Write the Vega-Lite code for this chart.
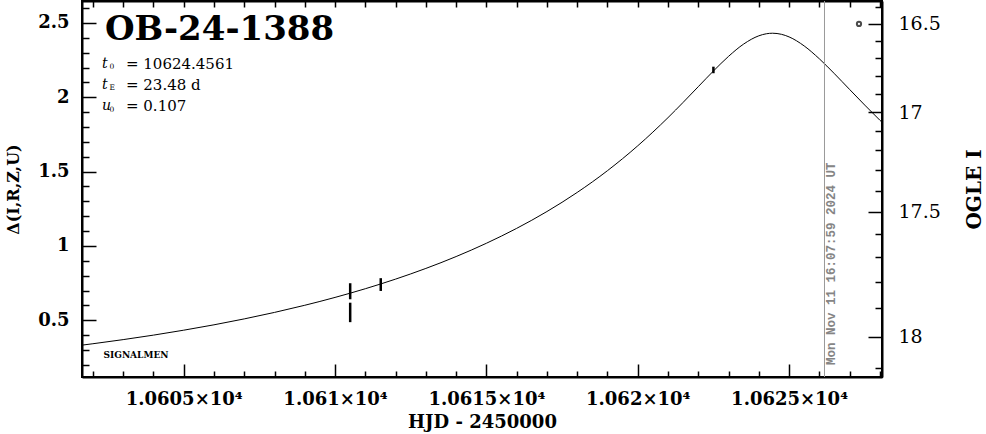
{
  "$schema": "https://vega.github.io/schema/vega-lite/v6.json",
  "width": 800,
  "height": 376,
  "autosize": {"type": "none"},
  "padding": {"left": 82, "top": 1, "right": 104, "bottom": 57},
  "background": "white",
  "config": {
    "view": {"stroke": "black", "strokeWidth": 2},
    "font": "DejaVu Serif",
    "axis": {
      "grid": false,
      "domainColor": "black",
      "domainWidth": 2,
      "tickColor": "black",
      "tickWidth": 1.5,
      "labelColor": "black",
      "titleColor": "black",
      "labelFont": "DejaVu Serif",
      "titleFont": "DejaVu Serif",
      "labelOverlap": false,
      "labelFlush": false
    }
  },
  "datasets": {
    "model": [
      {"t": 10601.64, "d": 0.3324}, {"t": 10602, "d": 0.3418}, {"t": 10603, "d": 0.3695},
      {"t": 10604, "d": 0.3997}, {"t": 10605, "d": 0.4329}, {"t": 10606, "d": 0.4691},
      {"t": 10607, "d": 0.5089}, {"t": 10608, "d": 0.5526}, {"t": 10609, "d": 0.6006},
      {"t": 10610, "d": 0.6535}, {"t": 10611, "d": 0.712}, {"t": 10612, "d": 0.7766},
      {"t": 10613, "d": 0.8485}, {"t": 10614, "d": 0.9284}, {"t": 10615, "d": 1.0178},
      {"t": 10616, "d": 1.1181}, {"t": 10617, "d": 1.2313}, {"t": 10618, "d": 1.3599},
      {"t": 10619, "d": 1.5063}, {"t": 10619.5, "d": 1.5872}, {"t": 10620, "d": 1.6735},
      {"t": 10620.5, "d": 1.7657}, {"t": 10621, "d": 1.8632}, {"t": 10621.5, "d": 1.9658},
      {"t": 10622, "d": 2.0715}, {"t": 10622.5, "d": 2.1767}, {"t": 10623, "d": 2.2755},
      {"t": 10623.5, "d": 2.3584}, {"t": 10624, "d": 2.4137}, {"t": 10624.25, "d": 2.4276},
      {"t": 10624.456, "d": 2.4312}, {"t": 10624.75, "d": 2.4238}, {"t": 10625, "d": 2.4065},
      {"t": 10625.5, "d": 2.3455}, {"t": 10626, "d": 2.259}, {"t": 10626.5, "d": 2.1585},
      {"t": 10627, "d": 2.0528}, {"t": 10627.5, "d": 1.9476}, {"t": 10628, "d": 1.8458},
      {"t": 10628.07, "d": 1.8319}
    ],
    "obs": [
      {"t": 10610.5, "lo": 0.641, "hi": 0.749},
      {"t": 10610.5, "lo": 0.487, "hi": 0.618},
      {"t": 10611.51, "lo": 0.697, "hi": 0.783},
      {"t": 10622.5, "lo": 2.162, "hi": 2.206}
    ],
    "ogle": [{"t": 10627.31, "d": 2.494}],
    "now": [{"t": 10626.17, "d": 0.199, "label": "Mon Nov 11 16:07:59 2024 UT"}],
    "title": [{"t": 10602.4, "d": 2.455, "label": "OB-24-1388"}],
    "signal": [{"t": 10602.35, "d": 0.2665, "label": "SIGNALMEN"}],
    "params": [
      {"t": 10602.3, "d": 2.225, "sym": "t", "sub": "0", "val": "= 10624.4561"},
      {"t": 10602.3, "d": 2.084, "sym": "t", "sub": "E", "val": "= 23.48 d"},
      {"t": 10602.3, "d": 1.94, "sym": "u", "sub": "0", "val": "= 0.107"}
    ]
  },
  "resolve": {"axis": {"x": "independent", "y": "independent"}},
  "layer": [
    {
      "data": {"name": "model"},
      "mark": {"type": "line", "color": "black", "strokeWidth": 1, "interpolate": "monotone", "clip": true},
      "encoding": {
        "x": {
          "field": "t", "type": "quantitative",
          "scale": {"domain": [10601.64, 10628.07], "nice": false, "zero": false},
          "axis": {
            "orient": "bottom",
            "values": [10602, 10603, 10604, 10605, 10606, 10607, 10608, 10609, 10610, 10611, 10612, 10613, 10614, 10615, 10616, 10617, 10618, 10619, 10620, 10621, 10622, 10623, 10624, 10625, 10626, 10627, 10628],
            "tickSize": {"condition": {"test": "datum.value % 5 == 0", "value": -13}, "value": -6},
            "labelExpr": "datum.value % 5 == 0 ? format(datum.value / 10000, '.5~f') + '×10⁴' : ''",
            "labelFontWeight": "bold",
            "labelFontSize": 18,
            "labelPadding": 26,
            "title": "HJD - 2450000",
            "titleFontWeight": "bold",
            "titleFontSize": 18,
            "titlePadding": -2
          }
        },
        "y": {
          "field": "d", "type": "quantitative",
          "scale": {"domain": [0.118, 2.648], "nice": false, "zero": false},
          "axis": {
            "orient": "left",
            "values": [0.2, 0.3, 0.4, 0.5, 0.6, 0.7, 0.8, 0.9, 1, 1.1, 1.2, 1.3, 1.4, 1.5, 1.6, 1.7, 1.8, 1.9, 2, 2.1, 2.2, 2.3, 2.4, 2.5, 2.6],
            "tickSize": {"condition": {"test": "abs(datum.value * 2 - round(datum.value * 2)) < 0.01", "value": -14}, "value": -7},
            "labelExpr": "abs(datum.value * 2 - round(datum.value * 2)) < 0.01 ? format(datum.value, '~g') : ''",
            "labelFontWeight": "bold",
            "labelFontSize": 18,
            "labelPadding": 27,
            "title": "Δ(I,R,Z,U)",
            "titleFontWeight": "bold",
            "titleFontSize": 16,
            "titlePadding": 16
          }
        }
      }
    },
    {
      "data": {"name": "obs"},
      "mark": {"type": "rule", "color": "black", "strokeWidth": 2.5},
      "encoding": {
        "x": {
          "field": "t", "type": "quantitative",
          "scale": {"domain": [10601.64, 10628.07], "nice": false, "zero": false},
          "axis": {
            "orient": "top",
            "values": [10602, 10603, 10604, 10605, 10606, 10607, 10608, 10609, 10610, 10611, 10612, 10613, 10614, 10615, 10616, 10617, 10618, 10619, 10620, 10621, 10622, 10623, 10624, 10625, 10626, 10627, 10628],
            "tickSize": -6,
            "labels": false,
            "title": null
          }
        },
        "y": {
          "field": "lo", "type": "quantitative",
          "scale": {"domain": [0.118, 2.648], "nice": false, "zero": false},
          "axis": {
            "orient": "right",
            "values": [2.607, 2.494, 2.379, 2.262, 2.143, 2.022, 1.899, 1.773, 1.643, 1.51, 1.372, 1.229, 1.08, 0.923, 0.758, 0.581, 0.39, 0.18],
            "tickSize": {"condition": {"test": "indexof([2.494, 1.899, 1.229, 0.39], datum.value) >= 0", "value": -14}, "value": -7},
            "labelExpr": "datum.value == 2.494 ? '16.5' : datum.value == 1.899 ? '17' : datum.value == 1.229 ? '17.5' : datum.value == 0.39 ? '18' : ''",
            "labelFontSize": 19,
            "labelFontWeight": "normal",
            "labelPadding": 30,
            "title": "OGLE I",
            "titleAngle": 270,
            "titleFontWeight": "bold",
            "titleFontSize": 20,
            "titlePadding": 44
          }
        },
        "y2": {"field": "hi"}
      }
    },
    {
      "data": {"name": "ogle"},
      "mark": {"type": "point", "shape": "circle", "filled": false, "color": "black", "strokeWidth": 2, "size": 18},
      "encoding": {
        "x": {"field": "t", "type": "quantitative", "scale": {"domain": [10601.64, 10628.07], "nice": false, "zero": false}, "axis": null},
        "y": {"field": "d", "type": "quantitative", "scale": {"domain": [0.118, 2.648], "nice": false, "zero": false}, "axis": null}
      }
    },
    {
      "data": {"name": "now"},
      "mark": {"type": "rule", "color": "#999999", "strokeWidth": 1},
      "encoding": {
        "x": {"field": "t", "type": "quantitative", "scale": {"domain": [10601.64, 10628.07], "nice": false, "zero": false}, "axis": null}
      }
    },
    {
      "data": {"name": "now"},
      "mark": {"type": "text", "color": "#858585", "font": "Liberation Mono", "fontWeight": "bold", "fontSize": 12.5, "angle": 270, "align": "left", "baseline": "middle", "dy": 7},
      "encoding": {
        "x": {"field": "t", "type": "quantitative", "scale": {"domain": [10601.64, 10628.07], "nice": false, "zero": false}, "axis": null},
        "y": {"field": "d", "type": "quantitative", "scale": {"domain": [0.118, 2.648], "nice": false, "zero": false}, "axis": null},
        "text": {"field": "label"}
      }
    },
    {
      "data": {"name": "title"},
      "mark": {"type": "text", "color": "black", "font": "DejaVu Serif", "fontWeight": "bold", "fontSize": 34, "align": "left", "baseline": "middle"},
      "encoding": {
        "x": {"field": "t", "type": "quantitative", "scale": {"domain": [10601.64, 10628.07], "nice": false, "zero": false}, "axis": null},
        "y": {"field": "d", "type": "quantitative", "scale": {"domain": [0.118, 2.648], "nice": false, "zero": false}, "axis": null},
        "text": {"field": "label"}
      }
    },
    {
      "data": {"name": "signal"},
      "mark": {"type": "text", "color": "black", "font": "DejaVu Serif", "fontWeight": "bold", "fontSize": 9, "align": "left", "baseline": "middle"},
      "encoding": {
        "x": {"field": "t", "type": "quantitative", "scale": {"domain": [10601.64, 10628.07], "nice": false, "zero": false}, "axis": null},
        "y": {"field": "d", "type": "quantitative", "scale": {"domain": [0.118, 2.648], "nice": false, "zero": false}, "axis": null},
        "text": {"field": "label"}
      }
    },
    {
      "data": {"name": "params"},
      "mark": {"type": "text", "color": "black", "font": "DejaVu Serif", "fontStyle": "italic", "fontSize": 14, "align": "left", "baseline": "middle"},
      "encoding": {
        "x": {"field": "t", "type": "quantitative", "scale": {"domain": [10601.64, 10628.07], "nice": false, "zero": false}, "axis": null},
        "y": {"field": "d", "type": "quantitative", "scale": {"domain": [0.118, 2.648], "nice": false, "zero": false}, "axis": null},
        "text": {"field": "sym"}
      }
    },
    {
      "data": {"name": "params"},
      "mark": {"type": "text", "color": "black", "font": "DejaVu Serif", "fontSize": 7.5, "align": "left", "baseline": "middle", "dx": 7.5, "dy": 3.5},
      "encoding": {
        "x": {"field": "t", "type": "quantitative", "scale": {"domain": [10601.64, 10628.07], "nice": false, "zero": false}, "axis": null},
        "y": {"field": "d", "type": "quantitative", "scale": {"domain": [0.118, 2.648], "nice": false, "zero": false}, "axis": null},
        "text": {"field": "sub"}
      }
    },
    {
      "data": {"name": "params"},
      "mark": {"type": "text", "color": "black", "font": "DejaVu Serif", "fontSize": 15, "align": "left", "baseline": "middle", "dx": 24},
      "encoding": {
        "x": {"field": "t", "type": "quantitative", "scale": {"domain": [10601.64, 10628.07], "nice": false, "zero": false}, "axis": null},
        "y": {"field": "d", "type": "quantitative", "scale": {"domain": [0.118, 2.648], "nice": false, "zero": false}, "axis": null},
        "text": {"field": "val"}
      }
    }
  ]
}
